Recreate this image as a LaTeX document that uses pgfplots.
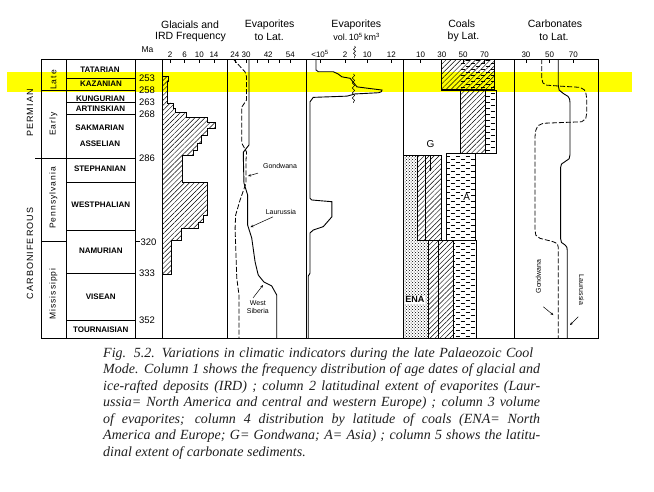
\documentclass[border=0pt]{standalone}
\usepackage{pgfplots}
\pgfplotsset{compat=1.18}
\usepackage{fontspec}
\setmainfont{Liberation Sans}
\newfontfamily\capfont{Liberation Serif}
\newfontfamily\spsans[LetterSpace=12]{Liberation Sans}
\usetikzlibrary{patterns,patterns.meta,decorations.pathmorphing,arrows.meta}
\definecolor{hl}{RGB}{255,255,0}
\pgfdeclarepatternformonly{hdash}{\pgfqpoint{-1pt}{-1pt}}{\pgfqpoint{11pt}{7pt}}{\pgfqpoint{10pt}{6pt}}{%
  \pgfsetlinewidth{0.8pt}%
  \pgfpathmoveto{\pgfqpoint{0.5pt}{1.5pt}}\pgfpathlineto{\pgfqpoint{5pt}{1.5pt}}%
  \pgfpathmoveto{\pgfqpoint{5.5pt}{4.5pt}}\pgfpathlineto{\pgfqpoint{10pt}{4.5pt}}%
  \pgfusepath{stroke}}
\pgfplotsset{
  panelbase/.style={scale only axis, height=279pt, y dir=reverse, ymin=245.2, ymax=359.4, anchor=north west},
  panel/.style={panelbase, ytick=\empty, xtick pos=right, xticklabel pos=right, tick align=inside,
    major tick length=3.5pt, axis line style={line width=0.9pt}, major tick style={line width=0.7pt,black},
    xticklabel style={font=\fontsize{8}{9}\selectfont, inner sep=1.5pt}},
}
\tikzset{hatch/.style={pattern={Lines[angle=45,distance=3.5pt,line width=0.45pt]}},
  arr/.style={-{Stealth[length=3pt,width=2.5pt]}, line width=0.5pt},
  small/.style={font=\fontsize{7}{8}\selectfont},
  stage/.style={font=\bfseries\fontsize{8}{9}\selectfont}}
\begin{document}
\begin{tikzpicture}
\begin{scope}[x=1pt,y=1pt]
\fill[white] (0,0) rectangle (654,-491);
\useasboundingbox (0,0) rectangle (654,-491);
\fill[hl] (7,-71.7) rectangle (632,-91.7);
\end{scope}

% ---------- stratigraphic column ----------
\begin{axis}[panelbase, at={(0pt,-59pt)}, width=654pt, xmin=0, xmax=654, hide axis, clip=false]
\draw[line width=0.9pt] (axis cs:41,245.2) rectangle (axis cs:162.7,359.4);
\draw[line width=0.8pt] (axis cs:66,245.2) -- (axis cs:66,359.4);
\draw[line width=0.8pt] (axis cs:135,245.2) -- (axis cs:135,359.4);
\pgfplotsinvokeforeach{253,258,263,268,295.6,315.2,333,352}{\draw[line width=0.7pt] (axis cs:66,#1) -- (axis cs:135,#1);}
\draw[line width=0.8pt] (axis cs:35,286) -- (axis cs:135,286);
\draw[line width=0.7pt] (axis cs:41,258) -- (axis cs:66,258);
\draw[line width=0.7pt] (axis cs:41,320) -- (axis cs:66,320);
\draw[line width=0.6pt] (axis cs:136,320) -- (axis cs:139.5,320);
\node[stage] at (axis cs:100,249.4) {TATARIAN};
\node[stage] at (axis cs:101,255.5) {KAZANIAN};
\node[stage] at (axis cs:100.5,261.3) {KUNGURIAN};
\node[stage] at (axis cs:100.5,265.7) {ARTINSKIAN};
\node[stage] at (axis cs:99.7,273.2) {SAKMARIAN};
\node[stage] at (axis cs:100,279.7) {ASSELIAN};
\node[stage] at (axis cs:100,290.2) {STEPHANIAN};
\node[stage] at (axis cs:100.8,305.0) {WESTPHALIAN};
\node[stage] at (axis cs:100.8,323.7) {NAMURIAN};
\node[stage] at (axis cs:100.8,342.5) {VISEAN};
\node[stage] at (axis cs:100.8,356.1) {TOURNAISIAN};
\node[rotate=90, font=\spsans\fontsize{8.5}{9}\selectfont] at (axis cs:53.5,253.8) {Late};
\node[rotate=90, font=\spsans\fontsize{8.5}{9}\selectfont] at (axis cs:53.5,271.8) {Early};
\node[rotate=90, font=\spsans\fontsize{8.5}{9}\selectfont] at (axis cs:53.5,302.1) {Pennsylvania};
\node[rotate=90, font=\spsans\fontsize{8.5}{9}\selectfont] at (axis cs:53.5,341.4) {Mississippi};
\node[rotate=90, font=\spsans\fontsize{9}{10}\selectfont] at (axis cs:30,267.3) {PERMIAN};
\node[rotate=90, font=\spsans\fontsize{9}{10}\selectfont] at (axis cs:30,324.8) {CARBONIFEROUS};
\pgfplotsinvokeforeach{253,258,263,268,286,333,352}{\node[font=\fontsize{9.5}{10}\selectfont] at (axis cs:147,#1) {#1};}
\node[font=\fontsize{9.5}{10}\selectfont] at (axis cs:148.5,320) {320};
\end{axis}

% ---------- glacials ----------
\begin{axis}[panel, at={(162.7pt,-59pt)}, width=64.8pt, xmin=0, xmax=17.7, xtick={2,6,10,14}, xticklabels={2,6,10,14}]
\addplot[draw=black, line width=0.9pt, hatch] coordinates {
(0,252.5) (1.5,252.5) (1.5,254.5) (1.2,254.5) (1.2,263.2) (2.8,263.2) (2.8,265.3) (3.6,265.3) (3.6,266.9)
(6.6,266.9) (6.6,269.0) (12.1,269.0) (12.1,271.0) (14.3,271.0) (14.3,273.5) (12.1,273.5) (12.1,276.3)
(10.7,276.3) (10.7,279.6) (9.6,279.6) (9.6,282.5) (8.3,282.5) (8.3,284.5) (5.5,284.5) (5.5,295.6)
(12.1,295.6) (12.1,309.1) (11.0,309.1) (11.0,311.9) (9.9,311.9) (9.9,314.4) (5.0,314.4) (5.0,319.3)
(2.5,319.3) (2.5,333.2) (0,333.2)} -- cycle;
\end{axis}

% ---------- evaporites to lat ----------
\begin{axis}[panel, at={(227.5pt,-59pt)}, width=78.5pt, xmin=20, xmax=62.43, xtick={24,30,36,42,48,54}, xticklabels={24,30,,42,,54}]
\addplot[black, line width=0.9pt] coordinates {
(31.6,245.2) (31.6,280.4) (28.6,283.3) (28.6,286.6) (28.9,296.0) (30.9,300.9) (30.9,313.2) (33.1,318.5)
(34.9,328.2) (36.6,333.6) (39.7,336.5) (43.9,338.1) (46.6,341.8) (46.6,359.4)};
\addplot[black, line width=0.8pt, dash pattern=on 5pt off 2pt] coordinates {
(23.1,245.2) (29.5,250.5) (30.3,252.5) (30.3,262.0) (27.7,264.9) (27.7,279.6) (30.3,283.3) (30.0,286.6)
(30.0,296.0) (26.8,302.9) (24.4,309.1) (24.1,314.4) (25.0,334.8) (26.2,341.8) (26.2,359.4)};
\node[small] at (axis cs:48.4,288.9) {Gondwana};
\draw[arr] (axis cs:36.5,291.9) -- (axis cs:31.1,293.1);
\node[small] at (axis cs:48.9,307.7) {Laurussia};
\draw[arr] (axis cs:44.6,309.8) -- (axis cs:32.4,314.0);
\node[small, align=center, inner sep=0.5pt] at (axis cs:36.4,346.6) {West\\Siberia};
\draw[arr] (axis cs:33.8,343) -- (axis cs:39.2,337.7);
\end{axis}

% ---------- evaporite volume ----------
\begin{axis}[panel, at={(306pt,-59pt)}, width=97pt, xmin=0.44, xmax=4.32, xtick={1,2,2.88,3.84}, xticklabels={{\textless10\textsuperscript{5}},2,10,12}]
\addplot[black, line width=0.9pt] coordinates {
(0.84,245.2) (0.84,249.7) (0.93,250.4) (1.53,250.4) (1.73,251.4) (1.87,252.5) (2.2,253.1) (2.47,256.6)
(3.0,257.3) (3.47,257.9) (3.44,258.6) (3.33,259.0) (2.4,259.5) (2.07,260.4) (0.73,260.9) (0.6,262.7)
(0.6,302.2) (0.67,302.9) (1.0,303.2) (1.47,303.6) (1.47,309.8) (1.13,313.8) (0.73,315.2) (0.6,316.4)
(0.6,332.9) (0.53,334.0) (0.53,359.4)};
\draw[line width=0.5pt, decorate, decoration={snake, amplitude=1.2pt, segment length=5pt}] (axis cs:2.33,251.3) -- (axis cs:2.33,263.2);
\end{axis}

% ---------- coals ----------
\begin{axis}[panel, at={(403pt,-59pt)}, width=111pt, xmin=-6.41, xmax=97.67, xtick={10,30,50,70}, xticklabels={10,30,50,70}]
\addplot[draw=black, line width=0.9pt, pattern=crosshatch dots] coordinates {
(-6.41,284.5) (7.4,284.5) (7.4,319.3) (17.3,319.3) (17.3,359.4) (-6.41,359.4)} -- cycle;
\addplot[draw=black, line width=1pt, hatch] coordinates {(7.4,284.5) (29.9,284.5) (29.9,319.3) (7.4,319.3)} -- cycle;
\addplot[black, line width=0.8pt] coordinates {(14.2,284.5) (14.2,319.3)};
\addplot[draw=black, line width=1pt, hatch] coordinates {(17.3,319.3) (40.8,319.3) (40.8,359.4) (17.3,359.4)} -- cycle;
\addplot[black, line width=0.8pt] coordinates {(26.4,319.3) (26.4,359.4)};
\addplot[draw=black, line width=0.9pt, pattern=hdash] coordinates {(34.6,283.8) (61.1,283.8) (61.1,319.3) (34.6,319.3)} -- cycle;
\addplot[draw=black, line width=0.9pt, pattern=hdash] coordinates {(40.8,319.3) (62.7,319.3) (62.7,359.4) (40.8,359.4)} -- cycle;
\addplot[draw=black, line width=0.9pt, hatch] coordinates {(47.7,257.9) (70.5,257.9) (70.5,283.8) (47.7,283.8)} -- cycle;
\addplot[draw=black, line width=0.9pt, pattern=hdash] coordinates {(70.5,257.9) (81.4,257.9) (81.4,283.8) (70.5,283.8)} -- cycle;
\addplot[draw=black, line width=1.1pt, hatch] coordinates {(29.9,245.2) (79.8,245.2) (79.8,257.9) (29.9,257.9)} -- cycle;
\addplot[draw=none, pattern=hdash] coordinates {(47.7,245.2) (79.8,245.2) (79.8,257.9) (47.7,257.9)} -- cycle;
\node[font=\fontsize{10}{11}\selectfont] at (axis cs:19.5,280.2) {G};
\draw[arr] (axis cs:19.3,284.8) -- (axis cs:19.3,291.2);
\node[font=\fontsize{10}{11}\selectfont, fill=white, inner sep=0.6pt] at (axis cs:53.3,301.6) {A};
\node[font=\bfseries\fontsize{9}{10}\selectfont, fill=white, inner sep=0.6pt] at (axis cs:4.8,343.8) {ENA};
\end{axis}

% ---------- carbonates ----------
\begin{axis}[panel, at={(514pt,-59pt)}, width=84.3pt, xmin=19.86, xmax=91.12, xtick={30,50,70}, xticklabels={30,50,70}]
\addplot[black, line width=0.9pt] coordinates {
(57.3,245.2) (57.3,256.0) (58.0,257.9) (61.5,259.3) (65.5,260.5) (66.8,261.5) (67.2,263.0) (67.2,284.3)
(66.5,286.0) (63.0,287.2) (60.0,288.2) (59.3,289.5) (59.3,318.8) (60.0,320.3) (63.0,321.3) (64.5,322.2)
(64.9,323.5) (64.9,359.4)};
\addplot[black, line width=0.8pt, dash pattern=on 5pt off 2pt] coordinates {
(43.3,245.2) (43.3,253.1) (44.3,255.0) (47.5,255.9) (58.7,256.3) (75.6,256.8) (79.3,257.8) (80.7,259.3)
(81.3,261.5) (81.3,267.4) (80.5,269.6) (77.1,270.9) (44.6,271.5) (40.0,272.5) (38.2,274.5) (37.6,277.0)
(37.6,315.2) (38.3,317.3) (41.8,318.6) (53.1,320.0) (56.5,320.8) (57.3,322.3) (57.3,359.4)};
\node[small, rotate=90] at (axis cs:40.4,334.2) {Gondwana};
\draw[arr] (axis cs:44.6,346.6) -- (axis cs:53.1,350.0);
\node[small, rotate=-90] at (axis cs:77.1,339.7) {Laurussia};
\draw[arr] (axis cs:74.2,350.7) -- (axis cs:67.2,354.1);
\end{axis}

\begin{scope}[x=1pt,y=1pt]
% ---------- titles ----------
\begin{scope}[every node/.style={font=\fontsize{10.5}{12}\selectfont, inner sep=0}]
\node at (190,-25) {Glacials and};
\node at (190.5,-37.3) {IRD Frequency};
\node at (269.7,-25) {Evaporites};
\node at (269.2,-37.3) {to Lat.};
\node at (356.3,-25) {Evaporites};
\node[font=\fontsize{9}{10}\selectfont] at (356.7,-37) {vol.\,10\textsuperscript{5}\,km\textsuperscript{3}};
\node at (461.7,-24) {Coals};
\node at (463.5,-36.7) {by Lat.};
\node at (555,-24) {Carbonates};
\node at (554,-36.7) {to Lat.};
\node[font=\fontsize{8.5}{9}\selectfont] at (147.5,-50) {Ma};
\end{scope}
\draw[line width=0.5pt, decorate, decoration={snake, amplitude=1pt, segment length=4pt}] (354.5,-46) -- (354.5,-58);

% ---------- caption ----------
\begin{scope}[every node/.style={anchor=base west, inner sep=0, text=black!88, font=\capfont\itshape\fontsize{14}{15}\selectfont}]
\node at (103,-357) {\makebox[430pt][s]{Fig. 5.2.\enspace Variations in climatic indicators during the late Palaeozoic Cool}};
\node at (103,-373.5) {\makebox[437pt][s]{Mode. Column 1 shows the frequency distribution of age dates of glacial and}};
\node at (103,-390) {\makebox[437pt][s]{ice-rafted deposits (IRD) ; column 2 latitudinal extent of evaporites (Laur-}};
\node at (103,-406.5) {\makebox[437pt][s]{ussia= North America and central and western Europe) ; column 3 volume}};
\node at (103,-423) {\makebox[437pt][s]{of evaporites; column 4 distribution by latitude of coals (ENA= North}};
\node at (103,-439.5) {\makebox[437pt][s]{America and Europe; G= Gondwana; A= Asia) ; column 5 shows the latitu-}};
\node at (103,-456) {dinal extent of carbonate sediments.};
\end{scope}
\end{scope}
\end{tikzpicture}
\end{document}
